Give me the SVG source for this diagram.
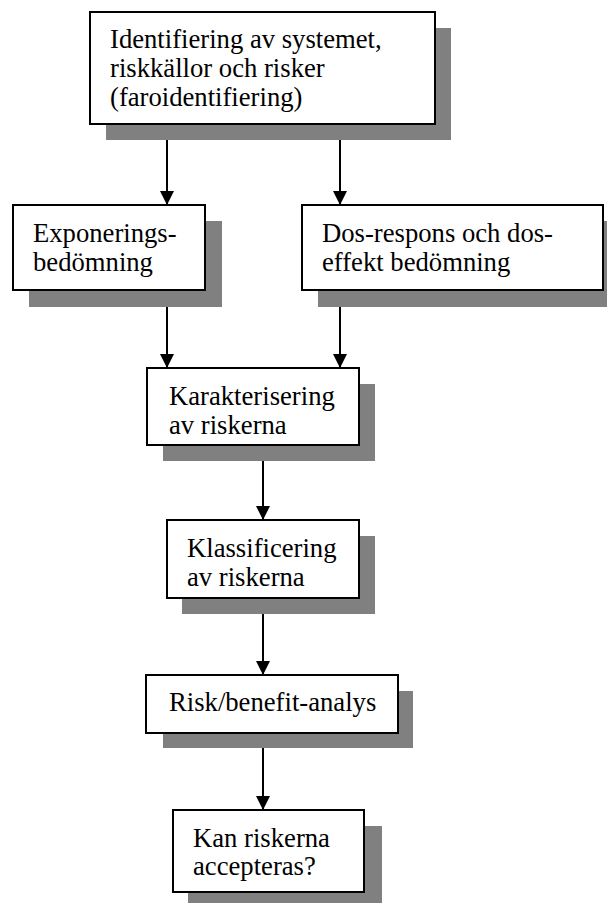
<svg xmlns="http://www.w3.org/2000/svg" width="607" height="903" viewBox="0 0 607 903">
<style>
.shadow{fill:#808080;stroke:none}
.box{fill:#ffffff;stroke:#000000;stroke-width:2}
.lbl{font-family:"Liberation Serif","Times New Roman",serif;font-size:26.67px;fill:#000000}
.conn{stroke:#000000;stroke-width:2;fill:none;marker-end:url(#arrow)}
</style>
<defs>
<marker id="arrow" markerUnits="userSpaceOnUse" markerWidth="14" markerHeight="16" refX="14" refY="7" orient="auto" viewBox="0 0 14 14">
<path d="M0,0 L14,7 L0,14 Z" fill="#000000"/>
</marker>
</defs>
<rect width="607" height="903" fill="#ffffff"/>
<g id="connectors">
<line class="conn" x1="167" y1="124" x2="167" y2="205"/>
<line class="conn" x1="340" y1="124" x2="340" y2="205"/>
<line class="conn" x1="167" y1="290" x2="167" y2="368"/>
<line class="conn" x1="340" y1="290" x2="340" y2="368"/>
<line class="conn" x1="263" y1="445" x2="263" y2="520"/>
<line class="conn" x1="263" y1="598" x2="263" y2="675"/>
<line class="conn" x1="263" y1="733" x2="263" y2="810"/>
</g>
<g id="node-identifiering">
<rect class="shadow" x="106" y="28" width="345" height="112"/>
<rect class="box" x="90" y="12" width="345" height="112"/>
<text class="lbl" x="110" y="48">Identifiering av systemet,</text>
<text class="lbl" x="110" y="77">riskkällor och risker</text>
<text class="lbl" x="110" y="106">(faroidentifiering)</text>
</g>
<g id="node-exponering">
<rect class="shadow" x="29" y="221" width="193" height="86"/>
<rect class="box" x="13" y="205" width="192" height="85"/>
<text class="lbl" x="33" y="242">Exponerings-</text>
<text class="lbl" x="33" y="271">bedömning</text>
</g>
<g id="node-dosrespons">
<rect class="shadow" x="318" y="221" width="301" height="86"/>
<rect class="box" x="302" y="205" width="301" height="85"/>
<text class="lbl" x="322" y="242">Dos-respons och dos-</text>
<text class="lbl" x="322" y="271">effekt bedömning</text>
</g>
<g id="node-karakterisering">
<rect class="shadow" x="163" y="384" width="212" height="77"/>
<rect class="box" x="147" y="368" width="212" height="77"/>
<text class="lbl" x="169" y="405">Karakterisering</text>
<text class="lbl" x="169" y="434">av riskerna</text>
</g>
<g id="node-klassificering">
<rect class="shadow" x="182" y="536" width="193" height="78"/>
<rect class="box" x="167" y="520" width="192" height="78"/>
<text class="lbl" x="187" y="557">Klassificering</text>
<text class="lbl" x="187" y="586">av riskerna</text>
</g>
<g id="node-riskbenefit">
<rect class="shadow" x="163" y="691" width="250" height="57"/>
<rect class="box" x="146" y="675" width="252" height="58"/>
<text class="lbl" x="169" y="711">Risk/benefit-analys</text>
</g>
<g id="node-accepteras">
<rect class="shadow" x="188" y="826" width="194" height="82"/>
<rect class="box" x="173" y="810" width="191" height="82"/>
<text class="lbl" x="193" y="847">Kan riskerna</text>
<text class="lbl" x="193" y="875">accepteras?</text>
</g>
</svg>
